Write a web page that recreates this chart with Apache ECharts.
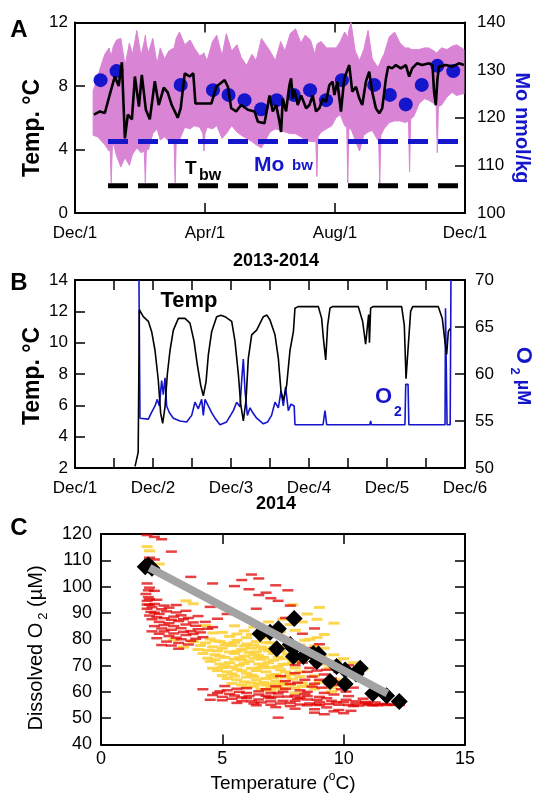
<!DOCTYPE html>
<html>
<head>
<meta charset="utf-8">
<script src="https://cdn.jsdelivr.net/npm/echarts/dist/echarts.min.js"></script>
<style>html,body{margin:0;padding:0;background:#fff}#main{width:534px;height:793px}</style>
</head>
<body>
<div id="main"></div>
<script>
// ---------- panel A: 2013-2014 (days from Dec/1) ----------
var monthLabelsA = ['Dec/1', 'Apr/1', 'Aug/1', 'Dec/1'];
var pinkDays = [17,21,24,28,32,33,34,35,36,39,43,47,51,54,58,62,65,66,67,69,73,77,80,84,88,93,94,95,98,103,108,112,117,120,121,122,124,129,133,138,142,147,152,156,161,166,170,175,179,183,188,193,197,202,207,212,216,221,225,226,227,228,231,236,241,245,249,253,255,256,257,259,263,267,271,275,279,284,285,286,287,290,295,300,305,310,313,314,315,318,323,328,332,337,339,340,341,344,349,354,358,363,365];
var pinkHigh = [7.7,8.5,9.2,10.0,10.4,10.1,9.9,10.2,10.5,10.9,11.0,9.3,10.7,10.0,11.5,9.9,10.8,11.2,10.6,10.1,11.0,9.4,10.4,9.7,10.2,10.4,10.7,11.0,11.4,10.6,10.9,10.4,9.9,10.0,10.1,9.9,9.6,10.8,11.2,9.9,11.3,10.2,10.6,9.8,9.3,10.0,9.6,11.0,10.6,10.2,9.6,10.8,10.2,11.3,11.6,10.7,11.2,10.9,10.0,10.3,10.6,10.7,10.8,10.4,10.4,10.4,10.8,11.4,11.2,11.0,11.5,12.0,10.2,9.6,10.3,11.5,9.7,9.2,9.3,9.4,9.6,10.0,11.1,11.4,10.7,10.4,10.4,10.4,10.3,10.3,10.3,10.4,10.4,10.2,10.1,10.1,10.2,10.4,10.3,10.5,10.6,10.4,10.3];
var pinkLow = [4.9,4.8,4.6,4.3,3.9,4.0,1.9,4.1,4.4,3.6,2.9,3.5,3.0,3.7,4.1,3.8,3.9,1.9,4.0,4.0,5.0,5.3,4.6,4.8,4.5,4.4,1.9,4.5,4.6,5.4,5.3,5.5,5.4,5.0,3.9,5.0,5.4,5.3,5.5,4.7,5.0,5.5,5.1,4.9,4.7,4.5,4.3,4.1,4.6,5.1,5.3,5.2,5.1,5.0,5.0,4.8,4.6,4.5,4.5,4.6,2.3,4.8,5.1,5.3,5.5,6.0,6.2,5.5,5.4,1.9,5.3,5.3,4.6,3.9,4.9,5.1,5.2,4.6,4.7,1.7,4.9,5.3,5.7,5.8,5.8,5.7,5.8,2.6,5.9,6.1,6.9,7.2,7.1,6.9,6.7,3.8,6.7,6.8,7.3,7.6,7.4,7.5,7.5];
var tempMeanA = [[17.8,6.2],[23.4,6.4],[28,6.3],[32.8,7.5],[37.4,8.6],[41,8.0],[44,9.5],[46.8,4.7],[49.6,6.2],[53.4,5.9],[56.2,8.6],[60,6.7],[62.7,8.7],[66.5,6.5],[70.2,5.9],[74.9,8.3],[78.6,6.8],[83.3,7.9],[87,7.6],[90.8,6.8],[96.4,6.0],[99.2,6.6],[103,8.8],[107.6,8.6],[111,8.8],[113,6.9],[128,6.9],[132.6,7.95],[140.4,8.38],[143.5,7.95],[146.6,6.6],[151.3,6.4],[156,6.8],[162.2,6.5],[168.5,6.4],[171.6,5.75],[177.8,5.65],[181,6.8],[182.5,7.4],[185.6,6.4],[188.8,6.8],[191.9,5.75],[193.4,5.1],[195,7.2],[198.1,6.4],[201.2,8.06],[202.8,8.48],[204.3,7.2],[205.9,7.75],[209,6.8],[212.2,7.4],[216.9,6.6],[220,6.8],[223.1,7.4],[226.2,6.4],[229.3,6.6],[232.4,7.2],[235.6,7.0],[238.7,8.06],[241.8,8.27],[243.4,7.43],[246.2,8.27],[249.6,6.38],[252.7,8.48],[257.4,9.32],[260.2,7.64],[263.7,7.95],[266.8,7.22],[269.6,6.8],[273,8.27],[276.1,8.9],[278.9,7.64],[282.4,6.59],[285.5,6.28],[288.3,6.59],[291.8,8.48],[293.9,9.22],[297.6,9.11],[301.1,9.32],[305.8,9.11],[310.5,9.32],[313.6,8.59],[316.4,9.11],[321,9.43],[325.7,9.32],[332.3,9.43],[335.5,9.3],[337,7.6],[338.6,6.8],[340.2,8.5],[341.6,9.22],[347.9,9.32],[354.1,9.22],[360.4,9.43],[365,9.32]];
var moPore = [[24.0,127.9],[39.0,129.8],[99.2,126.9],[129.5,125.8],[144.1,124.8],[159.1,123.7],[174.7,121.8],[189.4,123.7],[205.3,124.8],[220.6,125.8],[235.6,123.7],[250.5,127.9],[280.8,126.9],[295.5,124.8],[310.4,122.8],[325.4,126.9],[340.1,130.9],[355,129.8]];
var bwDays = [31, 360];
var tempBw = 1.72;
var moBw = 115;

// ---------- panel B: Dec 2014 (days from Dec/1) ----------
var dayLabelsB = ['Dec/1', 'Dec/2', 'Dec/3', 'Dec/4', 'Dec/5', 'Dec/6'];
var tempB = [[0.77,2.1],[0.81,3.0],[0.825,12.1],[0.876,11.66],[0.94,11.36],[0.983,10.7],[1.026,9.5],[1.068,7.6],[1.098,5.5],[1.124,4.85],[1.154,5.9],[1.184,8.0],[1.218,9.5],[1.261,10.8],[1.325,11.55],[1.41,11.55],[1.474,11.25],[1.526,10.1],[1.568,8.6],[1.611,7.3],[1.645,6.6],[1.68,7.5],[1.709,9.2],[1.752,10.7],[1.816,11.66],[1.87,11.75],[1.923,11.66],[2.009,11.36],[2.051,10.1],[2.094,8.0],[2.124,6.1],[2.158,5.0],[2.192,6.3],[2.222,9.0],[2.265,10.5],[2.329,10.8],[2.415,11.66],[2.46,11.76],[2.5,11.45],[2.564,10.5],[2.607,9.0],[2.641,6.9],[2.671,6.3],[2.714,7.3],[2.756,9.5],[2.8,10.7],[2.82,12.2],[2.86,12.3],[3.12,12.3],[3.162,11.55],[3.184,10.3],[3.214,8.9],[3.239,11.1],[3.269,12.2],[3.3,12.3],[3.632,12.3],[3.688,11.35],[3.726,9.9],[3.75,11.1],[3.765,11.8],[3.775,10.0],[3.79,12.2],[3.82,12.3],[4.188,12.3],[4.222,11.1],[4.244,7.7],[4.274,9.9],[4.303,12.0],[4.33,12.3],[4.658,12.3],[4.709,11.55],[4.744,10.0],[4.765,9.25],[4.786,10.7],[4.808,10.9]];
var o2B = [[0.82,70],[0.833,55.3],[0.94,55.2],[0.98,55.9],[1.026,56.6],[1.055,57.3],[1.081,56.6],[1.111,59.3],[1.132,57.8],[1.154,59.6],[1.175,56.6],[1.209,55.9],[1.261,55.3],[1.346,55.0],[1.432,54.9],[1.496,55.6],[1.538,57.0],[1.581,56.3],[1.624,57.3],[1.645,55.6],[1.667,57.3],[1.709,56.6],[1.752,55.9],[1.795,55.3],[1.859,54.6],[1.944,54.9],[2.03,56.1],[2.073,57.0],[2.115,56.5],[2.137,59.3],[2.158,61.6],[2.18,58.2],[2.21,55.6],[2.244,56.4],[2.278,55.9],[2.329,55.3],[2.415,54.7],[2.47,54.9],[2.52,55.6],[2.564,57.0],[2.607,56.4],[2.641,58.2],[2.671,56.6],[2.70,58.6],[2.735,56.1],[2.769,56.8],[2.81,56.6],[2.82,54.6],[3.18,54.6],[3.205,56.1],[3.227,54.6],[3.78,54.6],[3.79,55.0],[3.80,54.6],[4.23,54.6],[4.24,58.9],[4.27,58.9],[4.28,54.6],[4.744,54.6],[4.75,67.0],[4.77,54.6],[4.81,54.6],[4.82,70]];

// ---------- panel C: dissolved O2 vs temperature ----------
var redPts = [[1.9,119.6],[2.2,118.9],[2.5,118.0],[2.0,111.0],[2.2,110.3],[2.9,113.3],[3.7,103.7],
[4.6,101.2],[5.8,102.5],[6.5,103.1],[6.2,104.6],[5.5,100.2],[6.1,99.0],[6.5,96.8],[7.0,95.6],[7.3,94.6],[6.8,97.7],[7.2,100.5],[7.7,98.6],[4.5,92.3],[3.1,93.0],[6.4,91.6],[5.2,89.6],[7.8,92.8],
[1.85,97.2],[1.95,96.0],[1.9,94.6],[2.0,93.1],[1.9,91.6],[2.1,92.2],[2.2,90.1],[2.0,89.0],[2.4,89.6],[2.7,90.6],[3.0,88.6],[3.3,89.1],[3.6,88.1],[2.1,87.6],[2.4,86.6],[2.8,86.1],[3.2,86.9],[3.5,85.6],[3.9,85.1],[2.2,85.0],[2.5,84.1],[2.9,83.6],[3.3,84.2],[3.7,83.1],[4.1,82.6],[2.4,82.1],[2.8,81.2],[3.1,80.6],[3.5,81.6],[3.9,80.2],[2.7,79.1],[3.2,78.6],[3.6,78.0],[2.9,77.6],[4.3,86.6],[4.6,84.6],[2.0,99.6],[1.9,101.2],[2.3,95.0],[2.6,92.8],[2.1,83.0],[4.8,87.8],
[2.0,95.2],[2.2,93.4],[2.5,91.4],[2.3,88.4],[2.6,88.0],[2.9,87.4],[3.1,90.2],[3.4,87.6],[3.8,86.4],[2.6,85.4],[3.0,85.0],[3.4,82.8],[3.8,82.0],[2.6,83.0],[3.0,82.2],[3.3,80.0],[3.7,79.4],[4.0,83.8],[2.3,80.4],[2.5,77.8],[2.2,98.4],[1.95,98.6],[1.9,93.2],[2.05,90.4],[4.4,84.0],[4.2,80.8],[2.8,92.0],[3.5,90.8],[4.0,88.8],[3.2,76.4],
[4.8,59.6],[5.2,60.6],[5.6,61.2],[6.0,59.6],[6.5,60.2],[7.0,59.6],[7.5,60.1],[8.0,58.6],[5.0,58.1],[5.5,58.6],[6.0,57.6],[6.5,57.1],[7.0,57.6],[7.5,56.6],[8.0,56.6],[8.5,57.1],[9.0,56.1],[9.5,56.6],[10.0,56.1],[10.5,55.6],[11.0,55.5],[11.5,55.3],[12.0,55.1],[12.3,55.0],[6.3,55.6],[7.0,55.1],[7.8,54.6],[8.5,54.9],[9.3,54.1],[9.8,53.1],[8.8,52.1],[9.2,51.5],[10.0,51.9],[7.3,50.2],[4.5,57.0],[9.0,58.1],[9.6,59.0],[8.5,60.0],[5.8,56.5],[6.8,58.5],[7.3,58.2],[8.2,57.8],[8.9,55.2],[10.4,54.6],[11.2,54.9],[4.2,61.0],[5.1,62.2],[10.9,56.2],
[4.6,58.8],[4.9,60.2],[5.3,59.2],[5.7,60.0],[6.1,58.4],[6.5,59.0],[6.9,58.0],[7.3,59.4],[7.7,58.2],[8.1,57.4],[8.5,58.4],[8.9,57.0],[9.3,57.6],[9.7,56.0],[10.1,57.0],[10.5,56.4],[10.9,55.8],[11.3,56.0],[11.7,55.4],
[5.0,56.8],[5.4,57.4],[5.8,57.9],[6.2,56.4],[6.6,56.0],[7.0,56.4],[7.4,55.6],[7.8,55.8],[8.2,55.2],[8.6,55.6],[9.0,55.0],[9.4,55.4],[9.8,55.1],[10.2,55.0],[10.6,54.8],[11.0,55.0],[11.4,54.9],[11.8,55.0],[12.1,55.2],
[5.6,55.8],[6.4,54.9],[7.2,54.2],[8.0,53.6],[8.8,53.4],[9.6,52.6],[10.3,52.8],[6.0,61.4],[6.8,61.0],[7.6,61.2],[8.4,59.2],[9.2,59.6],[10.2,58.4],[10.8,57.4],
[8.3,71.1],[8.6,69.1],[8.9,68.1],[9.2,66.6],[9.5,65.1],[8.0,67.1],[8.4,64.6],[8.8,63.1],[9.1,61.6],[9.6,62.6],[7.6,64.1],[7.2,62.1],[10.1,60.1],[10.4,61.6],[9.8,67.6],[10.2,70.1],[7.8,78.6],[8.3,82.1],[8.8,84.1],[7.6,88.1],[8.5,76.6],[9.0,78.1],[8.1,63.5],[8.7,65.8],[9.4,63.0],
[8.0,70.2],[8.5,67.6],[9.0,64.6],[9.3,68.4],[8.7,62.0],[9.9,61.0],[7.8,63.0],[7.4,66.0],[8.2,60.6],[9.7,63.8]];
var yellowPts = [[1.9,115.2],[2.0,113.6],[2.4,108.6],[3.8,93.5],[7.9,93.1],
[4.3,85.2],[4.5,80.1],[4.9,79.1],[5.3,81.1],[5.6,79.6],[6.0,80.6],[6.4,79.1],[6.8,80.5],[7.3,81.5],
[4.1,77.6],[4.6,77.1],[5.0,76.6],[5.4,77.6],[5.8,76.1],[6.2,76.6],[6.6,77.1],[7.0,78.6],[7.4,77.2],
[4.2,74.6],[4.7,74.1],[5.1,73.1],[5.5,74.6],[5.9,73.6],[6.3,74.1],[6.7,73.1],[7.1,74.6],[7.5,72.6],[7.9,73.8],
[4.5,71.6],[4.9,70.6],[5.3,71.1],[5.7,70.1],[6.1,71.6],[6.5,70.6],[6.9,71.1],[7.3,69.6],[7.7,70.6],
[4.8,68.1],[5.2,67.6],[5.6,68.6],[6.0,67.1],[6.4,68.1],[6.8,67.6],[7.2,66.6],[7.6,67.6],[8.0,69.1],
[5.2,65.1],[5.6,64.6],[6.0,65.6],[6.4,64.6],[6.8,65.1],[7.2,64.1],[7.6,65.6],[8.2,65.8],[8.8,66.1],
[5.8,62.6],[6.3,62.1],[6.8,62.6],[7.3,61.6],[7.8,62.6],[8.3,62.1],[8.8,61.1],[9.3,63.6],[9.8,64.6],[10.0,62.6],
[6.6,82.6],[7.2,84.1],[7.8,85.6],[8.3,86.6],[8.9,87.6],[6.9,86.6],[7.5,87.6],[8.4,79.6],[8.9,80.6],[9.2,76.6],[9.6,74.1],[10.0,72.6],[10.4,71.1],[10.8,68.6],[10.5,65.6],
[8.6,73.1],[9.0,70.6],[9.4,69.1],[9.7,71.6],[5.0,82.6],[3.8,79.1],[4.0,76.1],[6.0,88.1],[5.5,85.1],[9.5,60.1],[8.0,59.6],[7.0,60.6],[8.5,89.6],[9.0,92.1],[9.6,86.1],
[4.4,72.8],[4.6,69.0],[5.0,66.2],[5.4,63.2],[6.2,63.4],[6.6,61.0],[7.0,63.0],[7.4,62.8],[5.4,69.4],[5.8,72.2],[6.2,69.0],[6.6,72.4],[7.0,69.2],[7.4,75.4],[7.8,76.4],[6.4,75.2],[5.6,75.4],[5.2,78.4],[4.8,75.6],[6.0,78.2],[6.8,78.8],[7.6,80.4],[8.2,77.8],[8.6,80.0],[5.9,83.2],[6.3,84.6],[7.0,82.2],[3.5,94.6],[3.0,79.8],[3.4,77.0],
[4.3,78.6],[4.7,79.4],[5.1,77.8],[5.5,78.8],[5.9,77.4],[6.3,77.8],[6.7,76.2],[7.1,76.8],
[4.4,75.8],[4.9,73.6],[5.3,75.2],[5.7,73.0],[6.1,75.0],[6.5,73.8],[6.9,75.6],[7.3,73.2],[7.7,74.4],
[4.7,72.2],[5.1,70.0],[5.5,72.4],[5.9,70.8],[6.3,72.8],[6.7,70.0],[7.1,72.0],[7.5,70.4],[7.9,71.4],
[5.0,69.2],[5.4,66.8],[5.8,68.0],[6.2,66.4],[6.6,69.2],[7.0,66.2],[7.4,68.4],[7.8,66.6],[8.2,67.6],
[5.5,66.0],[5.9,63.8],[6.3,65.8],[6.7,63.6],[7.1,65.4],[7.5,63.4],[7.9,64.8],[8.3,63.4],
[6.0,61.8],[6.5,63.0],[7.0,61.8],[7.5,61.2],[8.0,61.4],[8.6,62.4],[9.0,63.8],[9.5,61.6],
[8.2,71.6],[8.5,75.6],[8.8,77.4],[9.1,73.6],[9.5,71.0],[9.9,69.4],[10.2,67.0],[9.2,81.8],[8.0,83.4],[7.4,82.8],[6.8,84.4],[6.2,81.8],[5.6,82.0],[4.6,82.4]];
var samplesC = [[1.82,107.6],[1.95,108.2],[2.1,107.0],[6.56,82.1],[6.97,82.7],[7.31,84.0],[7.24,76.4],[7.96,87.9],[7.93,76.5],[7.8,78.0],[7.93,73.4],[8.34,73.4],[8.75,74.6],[8.96,74.4],[8.89,71.5],[9.71,69.6],[9.44,63.9],[10.06,68.3],[10.06,63.0],[10.68,69.0],[10.51,66.8],[11.2,59.4],[11.77,58.5],[12.29,56.3]];
var mixLine = [[2.0,107.2],[11.8,59.4]];

var FONT = 'Liberation Sans, Arial, sans-serif';
var BLUE = '#1515cc';
var PINK = '#da84d5';

function axis(o) {
    var a = {
        type: 'value',
        splitLine: {show: false},
        axisLine: {show: true, onZero: false, lineStyle: {color: '#000', width: 2}},
        axisTick: {show: true, inside: true, length: 10, lineStyle: {color: '#000', width: 1.5}},
        axisLabel: {show: true, color: '#000', fontSize: 17, fontFamily: FONT, showMinLabel: true, showMaxLabel: true, hideOverlap: false}
    };
    for (var k in o) {
        if (k === 'label') { for (var j in o.label) a.axisLabel[j] = o.label[j]; }
        else a[k] = o[k];
    }
    return a;
}

var myChart = echarts.init(document.getElementById('main'), null, {renderer: 'canvas'});

var option = {
    animation: false,
    backgroundColor: '#fff',
    grid: [
        {left: 75, right: 69, top: 22.5, height: 190.5, outerBoundsMode: 'none'},
        {left: 75, right: 69, top: 280, height: 188, outerBoundsMode: 'none'},
        {left: 101, right: 69, top: 534, height: 210.5, outerBoundsMode: 'none'}
    ],
    xAxis: [
        axis({gridIndex: 0, min: 0, max: 366, interval: 122, position: 'bottom',
            label: {margin: 12, formatter: function (v) { return monthLabelsA[Math.round(v / 122)]; }}}),
        axis({gridIndex: 0, min: 0, max: 366, interval: 122, position: 'top', label: {show: false}}),
        axis({gridIndex: 1, min: 0, max: 5, interval: 0.5, position: 'bottom',
            label: {margin: 12, formatter: function (v) {
                var r = Math.round(v);
                return Math.abs(v - r) < 1e-6 ? dayLabelsB[r] : '';
            }}}),
        axis({gridIndex: 1, min: 0, max: 5, interval: 0.5, position: 'top', label: {show: false}}),
        axis({gridIndex: 2, min: 0, max: 15, interval: 5, position: 'bottom', label: {fontSize: 18, margin: 6}}),
        axis({gridIndex: 2, min: 0, max: 15, interval: 5, position: 'top', label: {show: false}})
    ],
    yAxis: [
        axis({gridIndex: 0, min: 0, max: 12, interval: 4, position: 'left', label: {margin: 7}}),
        axis({gridIndex: 0, min: 100, max: 140, interval: 10, position: 'right', label: {margin: 12}}),
        axis({gridIndex: 1, min: 2, max: 14, interval: 2, position: 'left', label: {margin: 7}}),
        axis({gridIndex: 1, min: 50, max: 70, interval: 5, position: 'right', label: {margin: 10}}),
        axis({gridIndex: 2, min: 40, max: 120, interval: 10, position: 'left', label: {fontSize: 18, margin: 9}}),
        axis({gridIndex: 2, min: 40, max: 120, interval: 10, position: 'right', label: {show: false}})
    ],
    series: [
        // A: high-frequency temperature range (pink band)
        {
            type: 'custom', xAxisIndex: 0, yAxisIndex: 0, silent: true,
            data: [[0, 0]],
            renderItem: function (params, api) {
                var pts = [];
                for (var i = 0; i < pinkDays.length; i++) pts.push(api.coord([pinkDays[i], pinkHigh[i]]));
                for (var j = pinkDays.length - 1; j >= 0; j--) pts.push(api.coord([pinkDays[j], pinkLow[j]]));
                return {type: 'polygon', shape: {points: pts}, style: {fill: PINK, stroke: PINK, lineWidth: 1}};
            }
        },
        {
            type: 'line', xAxisIndex: 0, yAxisIndex: 1, symbol: 'none', silent: true,
            data: [[bwDays[0], moBw], [bwDays[1], moBw]],
            lineStyle: {color: BLUE, width: 5, type: [20, 10]}
        },
        {
            type: 'line', xAxisIndex: 0, yAxisIndex: 0, symbol: 'none', silent: true,
            data: [[bwDays[0], tempBw], [bwDays[1], tempBw]],
            lineStyle: {color: '#000', width: 5, type: [20, 10]}
        },
        {
            type: 'line', xAxisIndex: 0, yAxisIndex: 0, symbol: 'none', silent: true,
            data: tempMeanA, lineStyle: {color: '#000', width: 2.6}
        },
        {
            type: 'scatter', xAxisIndex: 0, yAxisIndex: 1, symbolSize: 14, silent: true,
            data: moPore, itemStyle: {color: BLUE, opacity: 1}
        },
        // B
        {
            type: 'line', xAxisIndex: 2, yAxisIndex: 3, symbol: 'none', silent: true,
            data: o2B, lineStyle: {color: BLUE, width: 1.6}
        },
        {
            type: 'line', xAxisIndex: 2, yAxisIndex: 2, symbol: 'none', silent: true,
            data: tempB, lineStyle: {color: '#000', width: 1.6}
        },
        // C
        {
            type: 'scatter', xAxisIndex: 4, yAxisIndex: 4, symbol: 'rect', symbolSize: [11, 3], silent: true,
            data: yellowPts, itemStyle: {color: '#fdd23c', opacity: 0.9}
        },
        {
            type: 'scatter', xAxisIndex: 4, yAxisIndex: 4, symbol: 'rect', symbolSize: [11, 2.5], silent: true,
            data: redPts, itemStyle: {color: '#e00000', opacity: 0.75}
        },
        {
            type: 'line', xAxisIndex: 4, yAxisIndex: 4, symbol: 'none', silent: true,
            data: mixLine, lineStyle: {color: '#a3a3a3', width: 8}
        },
        {
            type: 'scatter', xAxisIndex: 4, yAxisIndex: 4, symbol: 'diamond', symbolSize: 17, silent: true,
            data: samplesC, itemStyle: {color: '#000', opacity: 1}
        }
    ],
    graphic: [
        {type: 'text', x: 19, y: 30, style: {text: 'A', fontFamily: FONT, fontSize: 24, fontWeight: 'bold', fill: '#000', align: 'center', verticalAlign: 'middle'}},
        {type: 'text', x: 19, y: 283, style: {text: 'B', fontFamily: FONT, fontSize: 24, fontWeight: 'bold', fill: '#000', align: 'center', verticalAlign: 'middle'}},
        {type: 'text', x: 19, y: 528, style: {text: 'C', fontFamily: FONT, fontSize: 24, fontWeight: 'bold', fill: '#000', align: 'center', verticalAlign: 'middle'}},
        {type: 'text', x: 33, y: 128, rotation: Math.PI / 2, style: {text: 'Temp. °C', fontFamily: FONT, fontSize: 23, fontWeight: 'bold', fill: '#000', align: 'center', verticalAlign: 'middle'}},
        {type: 'text', x: 33, y: 376, rotation: Math.PI / 2, style: {text: 'Temp. °C', fontFamily: FONT, fontSize: 23, fontWeight: 'bold', fill: '#000', align: 'center', verticalAlign: 'middle'}},
        {type: 'text', x: 522, y: 128, rotation: -Math.PI / 2, style: {text: 'Mo nmol/kg', fontFamily: FONT, fontSize: 20, fontWeight: 'bold', fill: BLUE, align: 'center', verticalAlign: 'middle'}},
        {type: 'text', x: 523, y: 376, rotation: -Math.PI / 2, style: {
            text: '{o|O}{s| 2}{u| µM}', align: 'center', verticalAlign: 'middle', fill: BLUE,
            rich: {
                o: {fontFamily: FONT, fontSize: 22, fontWeight: 'bold', fill: BLUE, lineHeight: 30, verticalAlign: 'middle'},
                s: {fontFamily: FONT, fontSize: 13, fontWeight: 'bold', fill: BLUE, lineHeight: 13, verticalAlign: 'bottom'},
                u: {fontFamily: FONT, fontSize: 18, fontWeight: 'bold', fill: BLUE, lineHeight: 30, verticalAlign: 'middle'}
            }}},
        {type: 'text', x: 36, y: 648, rotation: Math.PI / 2, style: {
            text: '{m|Dissolved O}{s|2}{m| (µM)}', align: 'center', verticalAlign: 'middle', fill: '#000',
            rich: {
                m: {fontFamily: FONT, fontSize: 20, fill: '#000', lineHeight: 28, verticalAlign: 'middle'},
                s: {fontFamily: FONT, fontSize: 13, fill: '#000', lineHeight: 14, verticalAlign: 'bottom', padding: [0, 0, 0, 3]}
            }}},
        {type: 'text', x: 283, y: 784, style: {
            text: '{m|Temperature (}{s|o}{m|C)}', align: 'center', verticalAlign: 'middle', fill: '#000',
            rich: {
                m: {fontFamily: FONT, fontSize: 19, fill: '#000', lineHeight: 26, verticalAlign: 'middle'},
                s: {fontFamily: FONT, fontSize: 12, fill: '#000', lineHeight: 12, verticalAlign: 'top'}
            }}},
        {type: 'text', x: 276, y: 261, style: {text: '2013-2014', fontFamily: FONT, fontSize: 18, fontWeight: 'bold', fill: '#000', align: 'center', verticalAlign: 'middle'}},
        {type: 'text', x: 276, y: 504, style: {text: '2014', fontFamily: FONT, fontSize: 18, fontWeight: 'bold', fill: '#000', align: 'center', verticalAlign: 'middle'}},
        {type: 'text', x: 189, y: 301, style: {text: 'Temp', fontFamily: FONT, fontSize: 22, fontWeight: 'bold', fill: '#000', align: 'center', verticalAlign: 'middle'}},
        {type: 'text', x: 375, y: 397, style: {text: 'O', fontFamily: FONT, fontSize: 22, fontWeight: 'bold', fill: BLUE, align: 'left', verticalAlign: 'middle'}},
        {type: 'text', x: 394, y: 412, style: {text: '2', fontFamily: FONT, fontSize: 14, fontWeight: 'bold', fill: BLUE, align: 'left', verticalAlign: 'middle'}},
        {type: 'text', x: 185, y: 169, style: {text: 'T', fontFamily: FONT, fontSize: 19, fontWeight: 'bold', fill: '#000', align: 'left', verticalAlign: 'middle'}},
        {type: 'text', x: 199, y: 176, style: {text: 'bw', fontFamily: FONT, fontSize: 16, fontWeight: 'bold', fill: '#000', align: 'left', verticalAlign: 'middle'}},
        {type: 'text', x: 254, y: 165, style: {text: 'Mo', fontFamily: FONT, fontSize: 21, fontWeight: 'bold', fill: BLUE, align: 'left', verticalAlign: 'middle'}},
        {type: 'text', x: 292, y: 166, style: {text: 'bw', fontFamily: FONT, fontSize: 15, fontWeight: 'bold', fill: BLUE, align: 'left', verticalAlign: 'middle'}}
    ]
};

myChart.setOption(option);
</script>
</body>
</html>
